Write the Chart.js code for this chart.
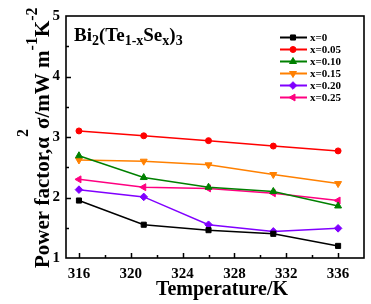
<!DOCTYPE html>
<html>
<head>
<meta charset="utf-8">
<script src="https://cdn.jsdelivr.net/npm/chart.js@4/dist/chart.umd.min.js"></script>
<style>
html,body{margin:0;padding:0;background:#fff;}
#wrap{width:371px;height:304px;position:relative;}
</style>
</head>
<body>
<div id="wrap"><canvas id="c" width="371" height="304"></canvas></div>
<script>
// ---- data ----
const temps = [316, 321, 326, 331, 336];
const seriesNames = ['x=0', 'x=0.05', 'x=0.10', 'x=0.15', 'x=0.20', 'x=0.25'];
const pf_x000 = [1.95, 1.55, 1.46, 1.40, 1.20];
const pf_x005 = [3.10, 3.02, 2.94, 2.85, 2.77];
const pf_x010 = [2.69, 2.33, 2.17, 2.10, 1.86];
const pf_x015 = [2.62, 2.60, 2.54, 2.38, 2.23];
const pf_x020 = [2.13, 2.01, 1.55, 1.44, 1.49];
const pf_x025 = [2.30, 2.17, 2.15, 2.07, 1.95];
const xTicks = [316, 320, 324, 328, 332, 336];
const yTicks = [1, 2, 3, 4, 5];

const SERIF = '"Liberation Serif", "Times New Roman", serif';
const colors = ['#000000', '#ff0000', '#008000', '#ff8000', '#8000ff', '#ff0080'];
const styles = [
  {pointStyle: 'rect', rotation: 0, radius: 3.6},
  {pointStyle: 'circle', rotation: 0, radius: 3},
  {pointStyle: 'triangle', rotation: 0, radius: 4},
  {pointStyle: 'triangle', rotation: 180, radius: 4},
  {pointStyle: 'rectRot', rotation: 0, radius: 3.8},
  {pointStyle: 'triangle', rotation: 270, radius: 4}
];
const allSeries = [pf_x000, pf_x005, pf_x010, pf_x015, pf_x020, pf_x025];

const datasets = allSeries.map((vals, i) => ({
  label: seriesNames[i],
  data: vals.map((v, j) => ({x: temps[j], y: v})),
  borderColor: colors[i],
  backgroundColor: colors[i],
  borderWidth: 1.5,
  pointStyle: styles[i].pointStyle,
  rotation: styles[i].rotation,
  pointRadius: styles[i].radius,
  pointBorderWidth: 1,
  tension: 0
}));

function drawMarker(ctx, st, color, x, y) {
  ctx.save();
  ctx.fillStyle = color; ctx.strokeStyle = color; ctx.lineWidth = 1;
  if (Chart.helpers && Chart.helpers.drawPoint) {
    Chart.helpers.drawPoint(ctx, {pointStyle: st.pointStyle, rotation: st.rotation, radius: st.radius, borderWidth: 1}, x, y);
  } else {
    ctx.beginPath(); ctx.arc(x, y, st.radius, 0, Math.PI * 2); ctx.fill();
  }
  ctx.restore();
}

function drawRich(ctx, parts, x, y) {
  let cx = x;
  parts.forEach(p => {
    ctx.font = 'bold ' + p.size + 'px ' + SERIF;
    ctx.fillText(p.t, cx, y + (p.dy || 0));
    cx += ctx.measureText(p.t).width;
  });
  return cx - x;
}

const decor = {
  id: 'decor',
  afterDraw(chart) {
    const ctx = chart.ctx;
    const a = chart.chartArea;
    const xs = chart.scales.x, ys = chart.scales.y;
    ctx.save();
    ctx.strokeStyle = '#000';
    ctx.lineWidth = 1.5;
    // inward ticks
    ctx.beginPath();
    for (let v = 316; v <= 336; v += 2) {
      const px = Math.round(xs.getPixelForValue(v)) + 0.5;
      const len = (v % 4 === 0) ? 5 : 3;
      ctx.moveTo(px, a.bottom); ctx.lineTo(px, a.bottom - len);
    }
    for (let v = 1.5; v < 5; v += 0.5) {
      const py = Math.round(ys.getPixelForValue(v)) + 0.5;
      const len = (Math.abs(v - Math.round(v)) < 0.01) ? 5 : 3;
      ctx.moveTo(a.left, py); ctx.lineTo(a.left + len, py);
    }
    ctx.stroke();
    // frame
    ctx.lineWidth = 1.6;
    ctx.strokeRect(a.left, a.top, a.right - a.left, a.bottom - a.top);

    ctx.fillStyle = '#000';
    ctx.textBaseline = 'alphabetic';
    ctx.textAlign = 'left';
    // compound title
    drawRich(ctx, [
      {t: 'Bi', size: 19}, {t: '2', size: 14, dy: 4},
      {t: '(Te', size: 19}, {t: '1-x', size: 14, dy: 4},
      {t: 'Se', size: 19}, {t: 'x', size: 14, dy: 4},
      {t: ')', size: 19}, {t: '3', size: 14, dy: 4}
    ], 74, 41);

    // legend
    seriesNames.forEach((name, i) => {
      const y = 37.5 + i * 12;
      ctx.strokeStyle = colors[i];
      ctx.lineWidth = 2;
      ctx.beginPath(); ctx.moveTo(280, y); ctx.lineTo(307, y); ctx.stroke();
      drawMarker(ctx, styles[i], colors[i], 293, y);
      ctx.fillStyle = '#000';
      ctx.font = 'bold 11px ' + SERIF;
      ctx.textBaseline = 'middle';
      ctx.fillText(name, 310, y + 0.5);
    });

    // x axis title
    ctx.textBaseline = 'alphabetic';
    ctx.textAlign = 'center';
    ctx.font = 'bold 20px ' + SERIF;
    ctx.fillText('Temperature/K', 222, 295);

    // y axis title (rotated, with superscripts)
    ctx.save();
    ctx.translate(49, 268);
    ctx.rotate(-Math.PI / 2);
    ctx.textAlign = 'left';
    drawRich(ctx, [
      {t: 'Power factor,\u03b1', size: 21},
      {t: '2', size: 16, dy: -21},
      {t: '\u03c3/mW m', size: 21},
      {t: '-1', size: 16, dy: -12},
      {t: 'K', size: 21},
      {t: '-2', size: 16, dy: -12}
    ], 0, 0);
    ctx.restore();
    ctx.restore();
  }
};

new Chart(document.getElementById('c'), {
  type: 'line',
  data: {datasets},
  options: {
    responsive: false,
    animation: false,
    devicePixelRatio: 1,
    layout: {padding: {left: 0, top: 16, right: 7, bottom: 0}},
    plugins: {legend: {display: false}, tooltip: {enabled: false}, title: {display: false}},
    scales: {
      x: {
        type: 'linear', min: 315, max: 338,
        grid: {display: false, drawTicks: false},
        border: {display: false},
        afterBuildTicks: s => { s.ticks = xTicks.map(v => ({value: v})); },
        afterFit: s => { s.height = 46; },
        ticks: {color: '#000', padding: 7, font: {family: SERIF, size: 15, weight: 'bold'}, maxRotation: 0, autoSkip: false}
      },
      y: {
        type: 'linear', min: 1, max: 5,
        grid: {display: false, drawTicks: false},
        border: {display: false},
        afterBuildTicks: s => { s.ticks = yTicks.map(v => ({value: v})); },
        afterFit: s => { s.width = 66; },
        ticks: {color: '#000', padding: 6, font: {family: SERIF, size: 15, weight: 'bold'}}
      }
    }
  },
  plugins: [decor]
});
</script>
</body>
</html>
